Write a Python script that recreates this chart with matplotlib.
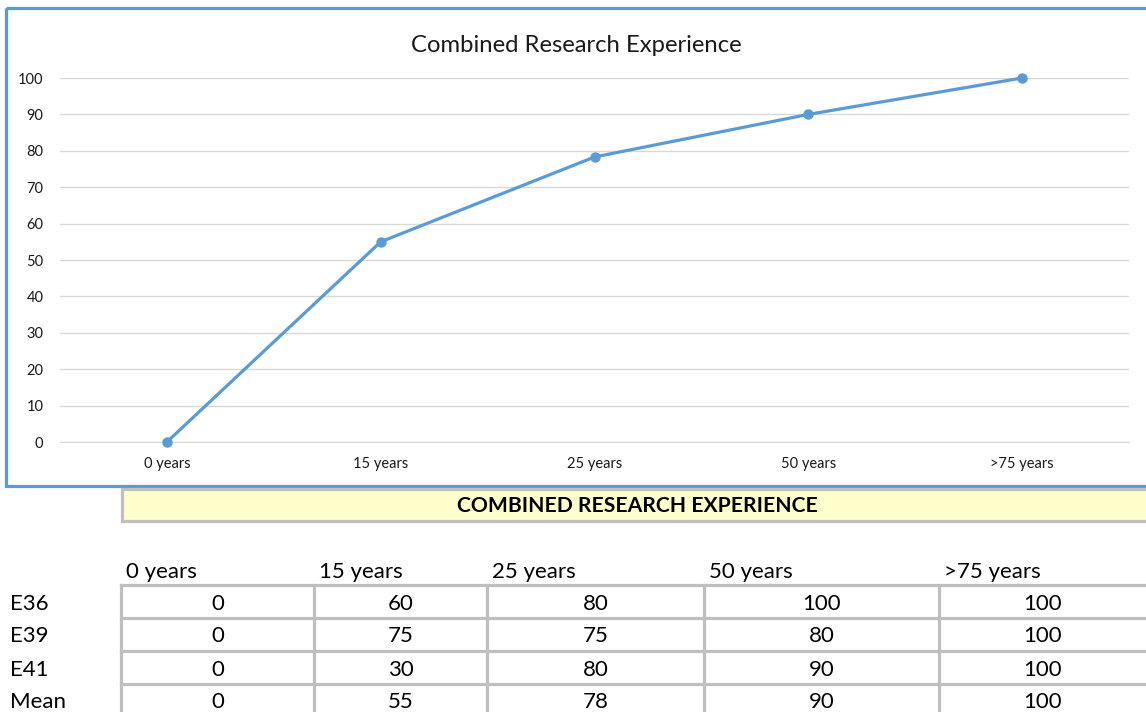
import numpy as np
import matplotlib
matplotlib.use('Agg')
import matplotlib.pyplot as plt
from matplotlib.patches import Rectangle

plt.rcParams['font.family'] = ['Lato', 'DejaVu Sans']

# data
categories = ['0 years', '15 years', '25 years', '50 years', '>75 years']
mean_line = [0, 55, 78.3, 90, 100]
row_labels = ['E36', 'E39', 'E41', 'Mean']
e36 = [0, 60, 80, 100, 100]
e39 = [0, 75, 75, 80, 100]
e41 = [0, 30, 80, 90, 100]
mean_row = [0, 55, 78, 90, 100]
table_rows = [e36, e39, e41, mean_row]

W, H = 1146, 712
blue = '#5b9bd5'
grid_c = '#d9d9d9'
cell_c = '#bfbfbf'

fig = plt.figure(figsize=(W/100, H/100), dpi=100)

def px_axes(x0, y0, x1, y1):
    return fig.add_axes([x0/W, 1-y1/H, (x1-x0)/W, (y1-y0)/H])

# background layer in pixel coords
bg = px_axes(0, 0, W, H)
bg.set_xlim(0, W)
bg.set_ylim(H, 0)
bg.axis('off')
bg.add_patch(Rectangle((6, 8), 1160, 477.5, fill=False, ec=blue, lw=2.3))
bg.add_patch(Rectangle((121.5, 488.5), 1040, 32, fc='#ffffcc', ec=cell_c, lw=2.3))
bg.text(637, 506, 'COMBINED RESEARCH EXPERIENCE', ha='center', va='center',
        fontsize=15.2, fontweight='bold', color='black')
bg.text(576, 45, 'Combined Research Experience', ha='center', va='center',
        fontsize=17.2, color='#1a1a1a')

# table
col_edges = [121, 314, 487, 704, 939, 1160]
row_lines = [585, 618, 651, 684, 717]
for j, c in enumerate(categories):
    bg.text(col_edges[j] + 5, 572, c, ha='left', va='center', fontsize=16, color='black')
for y in row_lines:
    bg.plot([col_edges[0], col_edges[-1]], [y, y], color=cell_c, lw=2.3)
for x in col_edges[:-1]:
    bg.plot([x, x], [row_lines[0], row_lines[-1]], color=cell_c, lw=2.3)
for i, lab in enumerate(row_labels):
    yc = (row_lines[i] + row_lines[i+1]) / 2 + 2
    bg.text(10, yc, lab, ha='left', va='center', fontsize=16, color='black')
    for j, v in enumerate(table_rows[i]):
        xc = (col_edges[j] + min(col_edges[j+1], W)) / 2
        bg.text(xc, yc, str(v), ha='center', va='center', fontsize=16, color='black')

# chart
ax = px_axes(60, 78, 1129, 442)
x = np.arange(len(categories))
ax.plot(x, mean_line, color=blue, lw=2.3, marker='o', markersize=6.5, clip_on=False, zorder=3)
ax.set_xlim(-0.5, len(categories) - 0.5)
ax.set_ylim(0, 100)
ax.set_yticks(range(0, 101, 10))
ax.set_xticks(x)
ax.set_xticklabels(categories)
ax.grid(axis='y', color=grid_c, lw=1)
ax.set_axisbelow(True)
for s in ['top', 'right', 'left']:
    ax.spines[s].set_visible(False)
ax.spines['bottom'].set_color(grid_c)
ax.tick_params(axis='both', length=0, labelsize=10.5, colors='#1a1a1a')
ax.tick_params(axis='y', pad=12)
ax.tick_params(axis='x', pad=11)
ax.patch.set_alpha(0)

fig.savefig('out.png', dpi=100)
